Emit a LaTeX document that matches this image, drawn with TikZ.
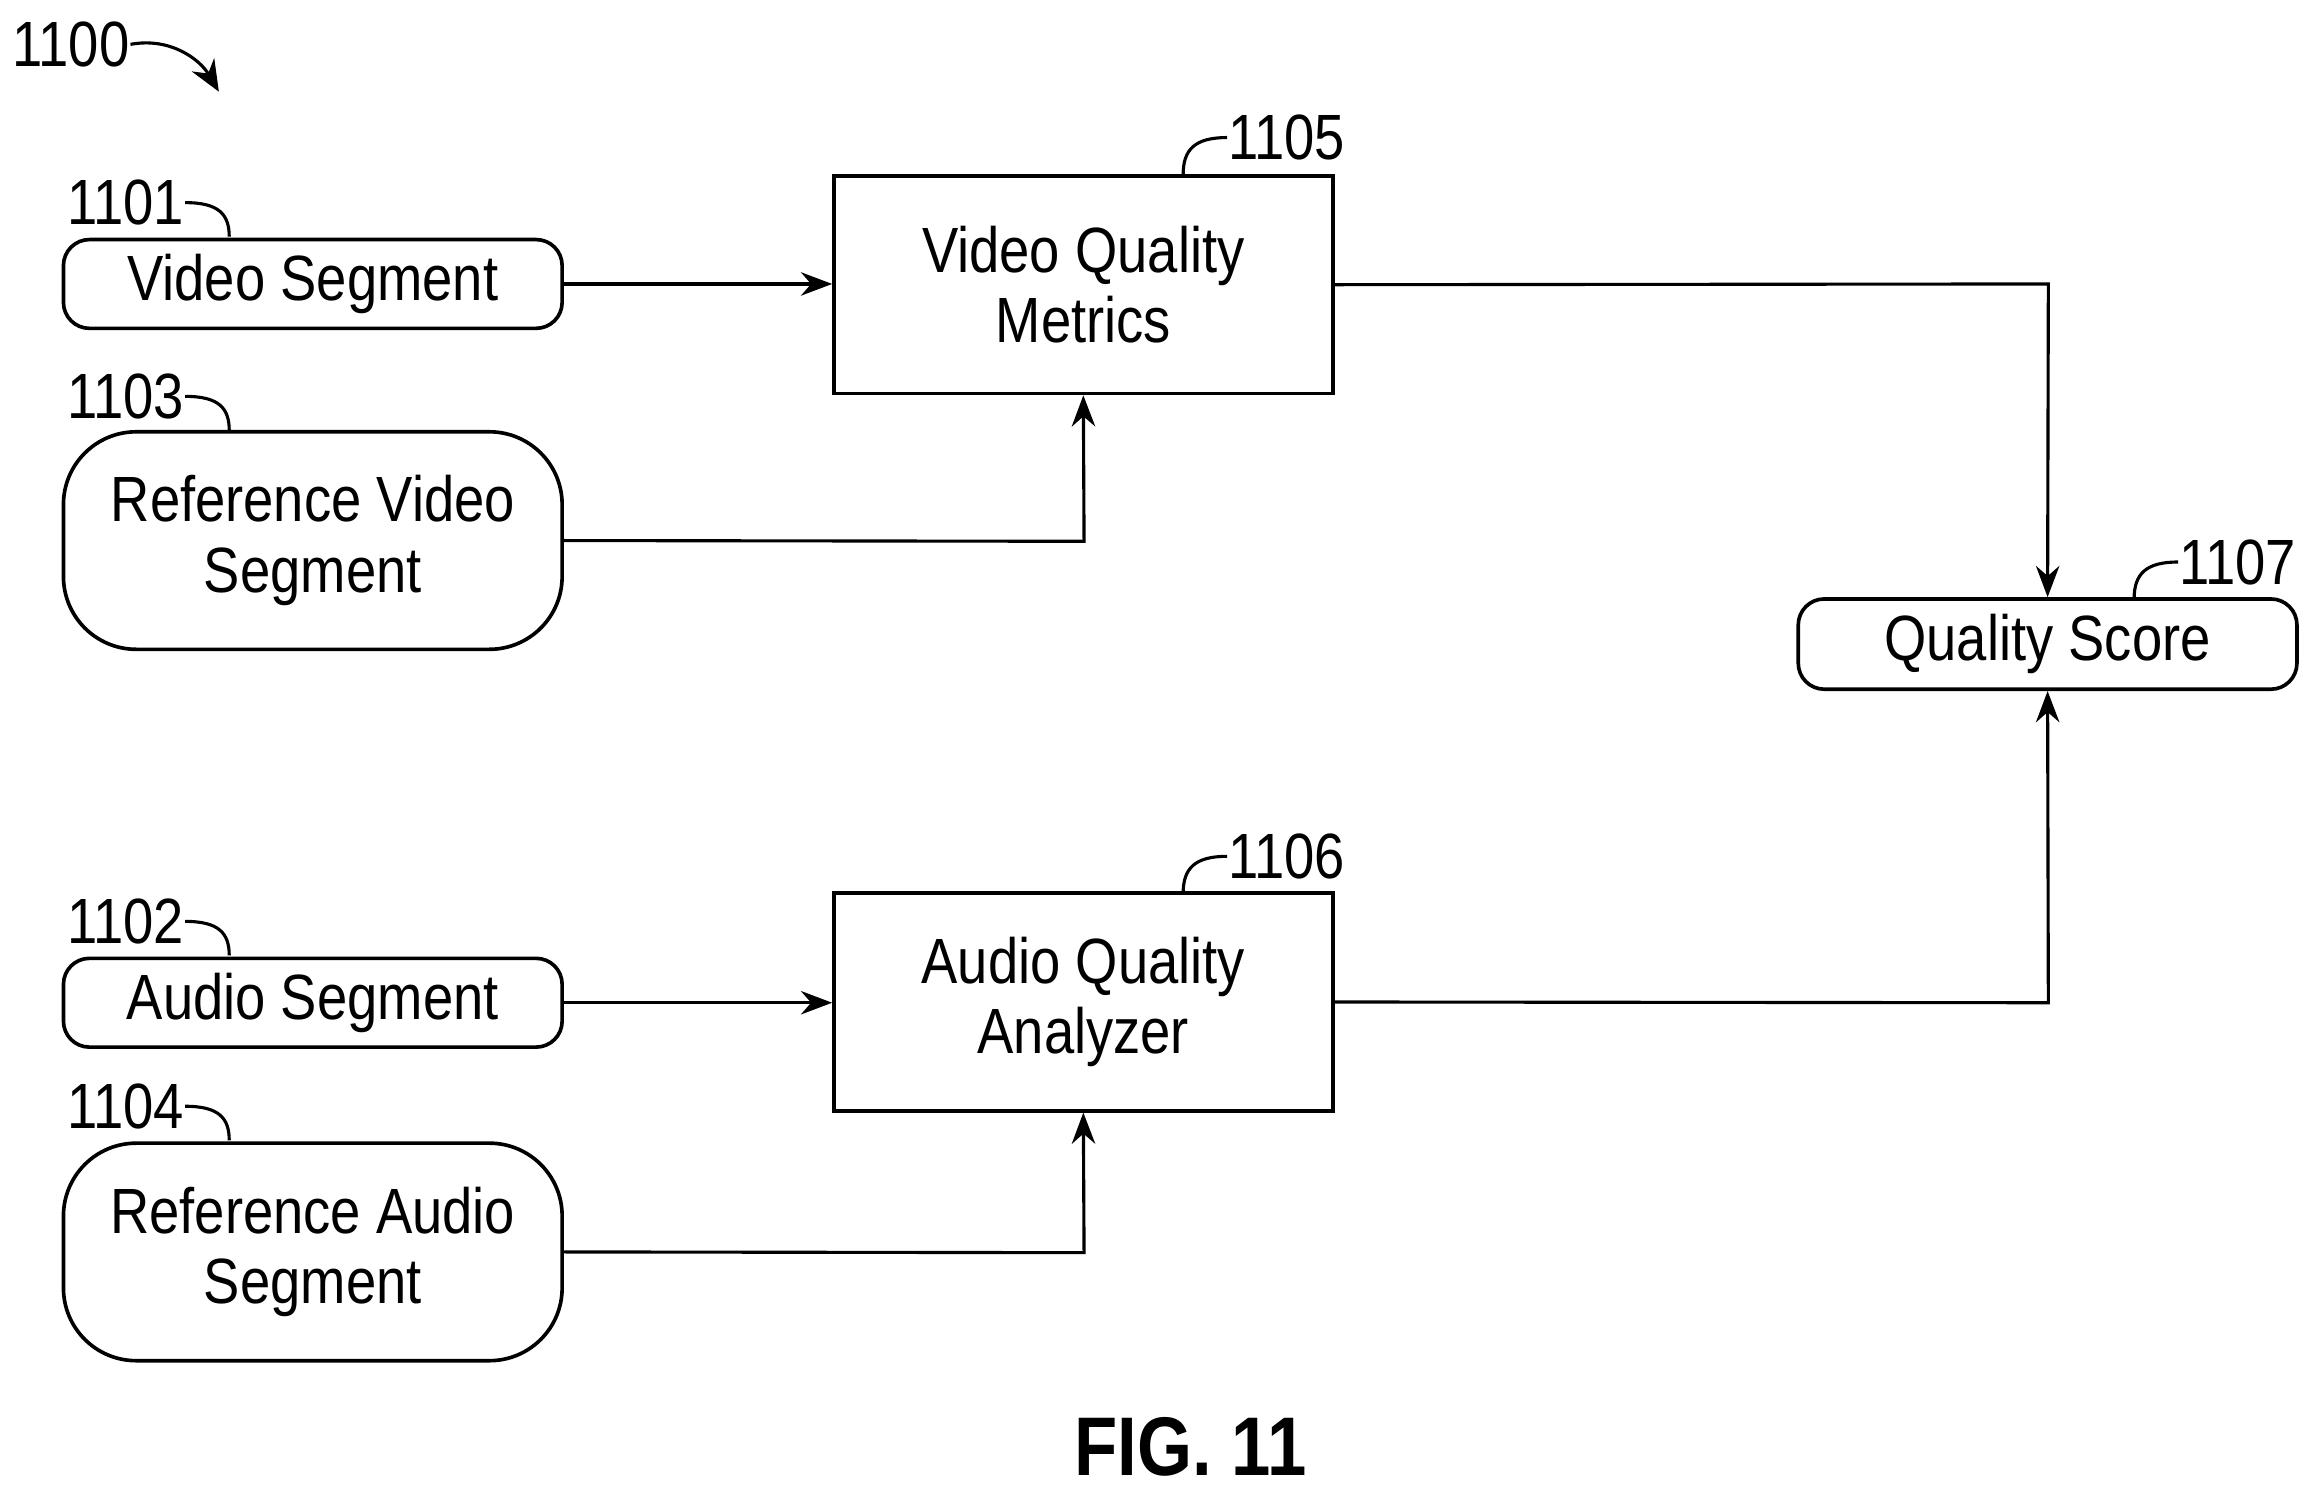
\documentclass[tikz,border=0pt]{standalone}
\usepackage{fontspec}
\setmainfont{Liberation Sans}[FakeStretch=0.85]
\usetikzlibrary{arrows.meta}
\begin{document}
\begin{tikzpicture}[x=0.01cm,y=-0.01cm,
  every node/.style={font=\fontsize{12.3}{13.5}\selectfont},
  box/.style={draw,line width=0.7pt,inner sep=0pt,align=center},
  sbox/.style={box,rounded corners=5pt},
  bbox/.style={box,rounded corners=14pt},
  lbl/.style={inner sep=0pt},
  arr/.style={line width=0.6pt,-{Stealth[length=6pt,width=4.5pt]}},
  lead/.style={line width=0.6pt}]
\useasboundingbox (0,0) rectangle (1568,1009);
\node[sbox,minimum width=3.37cm,minimum height=0.6cm] (vs) at (211.5,192) {Video Segment};
\node[bbox,minimum width=3.37cm,minimum height=1.47cm] (rv) at (211.5,365.5) {Reference Video\\Segment};
\node[sbox,minimum width=3.37cm,minimum height=0.6cm] (as) at (211.5,678) {Audio Segment};
\node[bbox,minimum width=3.37cm,minimum height=1.47cm] (ra) at (211.5,846.5) {Reference Audio\\Segment};
\node[box,minimum width=3.37cm,minimum height=1.47cm] (vq) at (732.5,192.5) {Video Quality\\Metrics};
\node[box,minimum width=3.37cm,minimum height=1.47cm] (aq) at (732.5,677.5) {Audio Quality\\Analyzer};
\node[sbox,minimum width=3.37cm,minimum height=0.61cm] (qs) at (1384.5,435.5) {Quality Score};

\draw[arr] (vs) -- (vq.west |- vs);
\draw[arr] (rv.east) -- (733,366) -- (vq.south);
\draw[arr] (vq.east) -- (1385,192) -- (qs.north);
\draw[arr] (as) -- (aq.west |- as);
\draw[arr] (ra.east) -- (733,847) -- (aq.south);
\draw[arr] (aq.east) -- (1385,678) -- (qs.south);

\node[lbl] (l1100) at (48,30) {1100};
\coordinate (t1100) at (148,62);
\draw[lead,-{Stealth[length=6pt,width=5pt]}] (l1100.east) .. controls (115,25) and (135,40) .. (t1100);
\foreach \n/\y/\b in {1101/137/vs,1103/268/rv,1102/623/as,1104/748/ra}{
  \node[lbl] (l\n) at (85,\y) {\n};
  \draw[lead] (l\n.east) .. controls (148,\y) and (155,\y+8) .. (155,\y+23);
}
\foreach \n/\x/\y in {1105/870/93,1106/870/579,1107/1513/380}{
  \node[lbl] (l\n) at (\x,\y) {\n};
  \draw[lead] (l\n.west) .. controls (\x-62,\y) and (\x-70,\y+8) .. (\x-70,\y+25);
}
\node[lbl,font=\fontsize{16}{18}\selectfont\bfseries] (fig) at (805,978) {FIG. 11};
\end{tikzpicture}
\end{document}
